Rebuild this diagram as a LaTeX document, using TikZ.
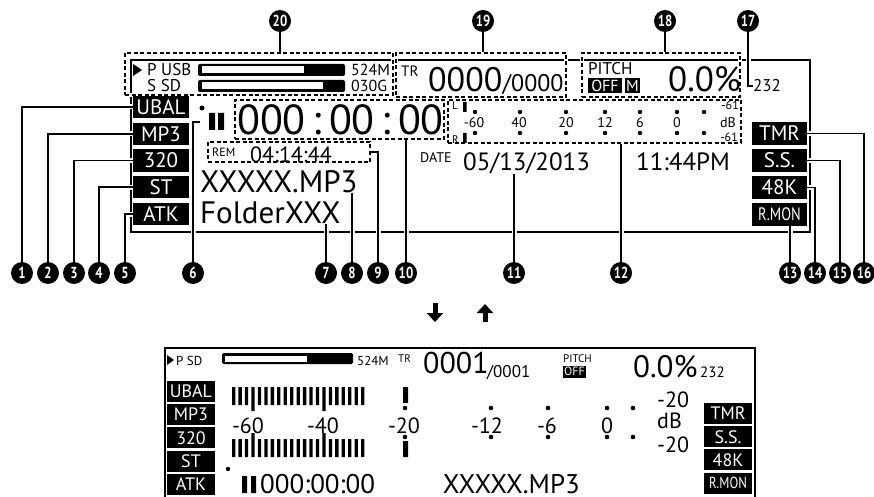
\documentclass[tikz,border=0pt]{standalone}
\usepackage{fontspec}
\setmainfont{PT Sans}
\newfontfamily\narrowfont[FakeStretch=0.8]{PT Sans}
\usetikzlibrary{arrows.meta,positioning}
\newcommand{\lcdsize}[1]{\fontsize{#1}{#1}\selectfont}

\begin{document}
\begin{tikzpicture}[x=1pt,y=-1pt,
  frame/.style={line width=1.8pt},
  zone/.style={draw,line width=1.7pt,dash pattern=on 4pt off 2.5pt,inner sep=0pt,
    preaction={draw=white,line width=3.6pt,solid}},
  lcd/.style={inner sep=0pt,anchor=base west},
  tag/.style={fill=black,text=white,inner sep=0pt,minimum width=56pt,minimum height=22pt,font=\lcdsize{21}},
  minitag/.style={fill=black,text=white,inner sep=0pt,minimum width=48pt,minimum height=21pt,font=\lcdsize{18}},
  callout/.style={circle,fill=black,text=white,inner sep=0pt,minimum size=22pt,font=\bfseries\narrowfont\lcdsize{16}},
  lead/.style={line width=1.8pt,preaction={draw=white,line width=5pt}},
  arrowsym/.style={line width=5pt,-{Triangle[width=16pt,length=9pt]}}]
\useasboundingbox (0,0) rectangle (874,497);

\draw[frame] (131,60) rectangle (810,232);

\node[zone,minimum width=268pt,minimum height=42pt] (media) at (259,74) {};
\node[zone,minimum width=170pt,minimum height=44pt] (track) at (481,75) {};
\node[zone,minimum width=158pt,minimum height=44pt] (pitch) at (661,75) {};
\node[zone,minimum width=209pt,minimum height=39pt] (clock) at (339.5,119.5) {};
\node[zone,minimum width=293pt,minimum height=43pt] (meter) at (594.5,121.5) {};
\node[zone,minimum width=162pt,minimum height=20pt] (remain) at (289,152) {};

\fill (133,64) -- (142,70) -- (133,76) -- cycle;
\node[lcd,font=\lcdsize{17}] (usb) at (147,76) {P USB};
\node[lcd,font=\lcdsize{17}] (sd) at (147,92) {S SD};
\fill[rounded corners=2pt] (198,64) rectangle (345,76);
\fill[white] (202,66.5) rectangle (304,73.5);
\fill[rounded corners=2pt] (198,80) rectangle (345,92);
\fill[white] (202,82.5) rectangle (323,89.5);
\node[lcd,font=\lcdsize{16}] (cap1) at (351,76) {524M};
\node[lcd,font=\lcdsize{16}] (cap2) at (351,92) {030G};

\node[lcd,font=\lcdsize{15}] (tr) at (401,77) {TR};
\node[lcd,font=\lcdsize{34}] (trno) at (428,92) {0000};
\node[lcd,font=\lcdsize{24}] (trall) at (trno.base east) {/0000};

\node[lcd,font=\lcdsize{17}] (pitchlbl) at (588,75) {PITCH};
\node[fill=black,text=white,inner sep=0pt,minimum width=34pt,minimum height=15pt,font=\lcdsize{16}] (off) at (605,85.5) {OFF};
\node[fill=black,text=white,inner sep=0pt,minimum width=15pt,minimum height=15pt,font=\lcdsize{16}] (mono) at (632.5,85.5) {M};
\node[lcd,font=\lcdsize{35}] (pval) at (668,92) {0.0\%};
\node[lcd,font=\lcdsize{17}] (vol) at (753,92) {232};

\fill (202,108) circle (2.5pt);
\fill (209,113) rectangle (215,130) (218,113) rectangle (224,130);
\node[lcd,font=\lcdsize{42}] (time) at (237,135) {000\,:\,00\,:\,00};
\node[lcd,font=\lcdsize{12}] (rem) at (212,157) {REM};
\node[lcd,font=\lcdsize{22}] (remtime) at (250,162) {04:14:44};
\node[lcd,font=\lcdsize{31}] (file) at (200,192) {XXXXX.MP3};
\node[lcd,font=\lcdsize{31}] (folder) at (200,223) {FolderXXX};

\node[lcd,font=\lcdsize{11}] (lch) at (452,110) {L};
\node[lcd,font=\lcdsize{11}] (rch) at (452,143) {R};
\fill (463,102) rectangle (466.5,112) (463,133) rectangle (466.5,143);
\foreach \x/\v [count=\k] in {474/-60,519/40,566/20,605/12,640/6,677/0}
  \node[font=\lcdsize{14},inner sep=0pt,anchor=base] (mt\k) at (\x,128) {\v};
\foreach \x in {475,520,566,605,640,677,704}
  \fill (\x,112) circle (2.2pt) (\x,133) circle (2.2pt);
\node[font=\lcdsize{12},inner sep=0pt,anchor=base east] (ltop) at (739,110) {-61};
\node[font=\lcdsize{14},inner sep=0pt,anchor=base east] (db) at (736,128) {dB};
\node[font=\lcdsize{12},inner sep=0pt,anchor=base east] (lbot) at (738,142) {-61};

\node[lcd,font=\lcdsize{14}] (datelbl) at (420,163) {DATE};
\node[lcd,font=\lcdsize{25}] (date) at (463,170) {05/13/2013};
\node[lcd,font=\lcdsize{25}] (hour) at (636,170) {11:44PM};

\foreach \t [count=\i] in {UBAL,MP3,320,ST,ATK}
  \node[tag] (lt\i) at (161,{107+26.75*(\i-1)}) {\t};
\foreach \t [count=\i] in {TMR,S.S.,48K,{\narrowfont\lcdsize{18}R.MON}}
  \node[tag,minimum width=55pt,minimum height=23pt] (rt\i) at (779.5,{133.5+27*(\i-1)}) {\t};

\coordinate (dn1) at (435,303);
\coordinate (dn2) at (435,322);
\coordinate (up1) at (485,322);
\coordinate (up2) at (485,304);
\draw[arrowsym] (dn1) -- (dn2);
\draw[arrowsym] (up1) -- (up2);

\draw[line width=1.5pt] (165,499) |- (755,348) -- (755,499);

\fill (167,355) -- (174,360) -- (167,365) -- cycle;
\node[lcd,font=\lcdsize{13}] (psd) at (176,365) {P SD};
\fill[rounded corners=1.5pt] (222,353) rectangle (353,364);
\fill[white] (225,355.5) rectangle (307,361.5);
\node[lcd,font=\lcdsize{13}] (cap3) at (357,365) {524M};
\node[lcd,font=\lcdsize{11}] (tr2) at (398,362) {TR};
\node[lcd,font=\lcdsize{30}] (trno2) at (423,373) {0001};
\node[lcd,font=\lcdsize{17}] (trall2) at (487,377) {/0001};
\node[lcd,font=\lcdsize{11}] (pitchlbl2) at (563,362) {PITCH};
\node[fill=black,text=white,inner sep=0pt,minimum width=23pt,minimum height=12pt,font=\lcdsize{12}] (off2) at (574.5,371.5) {OFF};
\node[lcd,font=\lcdsize{31}] (pval2) at (633,377) {0.0\%};
\node[lcd,font=\lcdsize{15}] (vol2) at (700,377) {232};

\foreach \t [count=\i] in {UBAL,MP3,320,ST,ATK}
  \node[minitag] (lb\i) at (191,{391.5+23.2*(\i-1)}) {\t};
\foreach \t [count=\i] in {TMR,S.S.,48K,{\narrowfont\lcdsize{16}R.MON}}
  \node[minitag] (rb\i) at (728,{413.5+23.2*(\i-1)}) {\t};

\foreach \k in {0,...,20}
  \fill ({232+6.45*\k},387) rectangle ++(3.3,18) ({232+6.45*\k},439) rectangle ++(3.3,18);
\foreach \k in {3,14}
  \fill ({232+6.45*\k},405) rectangle ++(3.3,6) ({232+6.45*\k},433) rectangle ++(3.3,6);
\fill (403,387) rectangle (408,403) (403,441) rectangle (408,457);
\foreach \x/\v [count=\k] in {248/-60,323/-40,404/-20,487/-12,547/-6,607/0}
  \node[font=\lcdsize{22},inner sep=0pt,anchor=base] (bt\k) at (\x,433) {\v};
\foreach \x in {405,491,548,607,633}
  \fill (\x,408) circle (2.3pt) (\x,437) circle (2.3pt);
\node[lcd,font=\lcdsize{22}] (btop) at (657,407) {-20};
\node[lcd,font=\lcdsize{22}] (bdb) at (657,428) {dB};
\node[lcd,font=\lcdsize{22}] (bbot) at (657,452) {-20};

\fill (228,469) circle (2.2pt);
\fill (242,476) rectangle (247,493) (251,476) rectangle (256,493);
\node[lcd,font=\lcdsize{27}] (time2) at (260,493) {000:00:00};
\node[inner sep=0pt,anchor=base east,font=\lcdsize{27}] (file2) at (580,493) {XXXXX.MP3};

\foreach \x [count=\i] in {22,48,74,99,125,193,326,352,378,406,514,621,790,815,840,864}
  \node[callout] (c\i) at (\x,273) {\i};
\foreach \x/\i in {280/20,483/19,665/18,748/17}
  \node[callout] (c\i) at (\x,21) {\i};

\foreach \i in {1,...,5}
  \draw[lead] (lt\i.west) -| (c\i.north);
\coordinate (m6) at (200,122);
\draw[lead] (m6) -| (c6.north);
\draw[lead] (c7 |- folder.south) -- (c7.north);
\draw[lead] (c8 |- file.south) -- (c8.north);
\draw[lead] (remain.east) -| (c9.north);
\draw[lead] (c10 |- clock.south) -- (c10.north);
\draw[lead] (c11 |- date.south) -- (c11.north);
\draw[lead] (c12 |- meter.south) -- (c12.north);
\draw[lead] (rt4.south -| c13) -- (c13.north);
\draw[lead] (rt3.east) -| (c14.north);
\draw[lead] (rt2.east) -| (c15.north);
\draw[lead] (rt1.east) -| (c16.north);
\draw[lead] (c17.south) |- (vol.west);
\draw[lead] (c18.south) -- (c18 |- pitch.north);
\draw[lead] (c19.south) -- (c19 |- track.north);
\draw[lead] (c20.south) -- (c20 |- media.north);
\end{tikzpicture}
\end{document}
